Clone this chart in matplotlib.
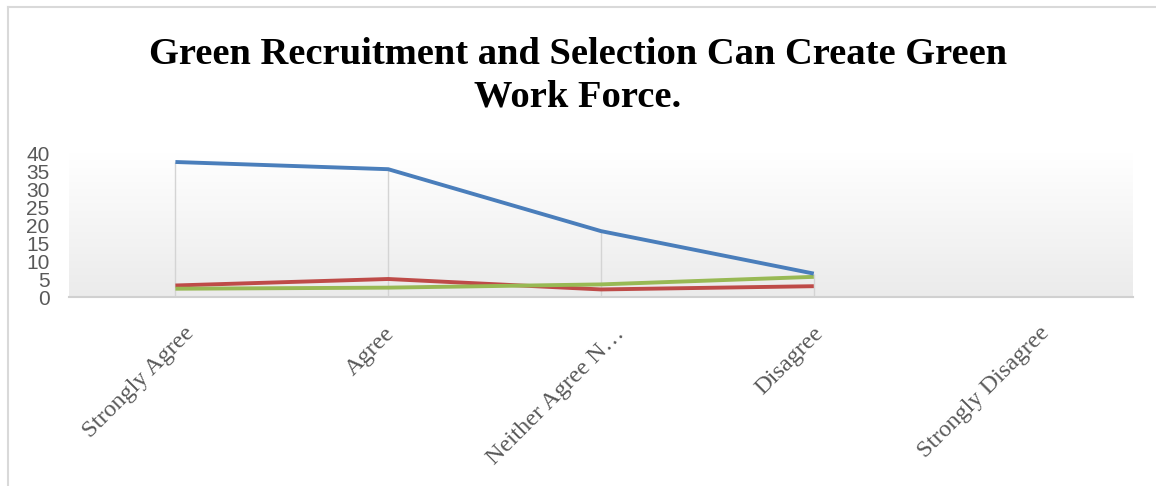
import numpy as np
import matplotlib
matplotlib.use("Agg")
import matplotlib.pyplot as plt
import matplotlib.transforms as mtrans
from matplotlib.lines import Line2D

categories = ["Strongly Agree", "Agree", "Neither Agree N…", "Disagree", "Strongly Disagree"]
series_blue = [37.5, 35.5, 18.3, 6.5, np.nan]
series_red = [3.2, 5.0, 2.1, 3.0, np.nan]
series_green = [2.3, 2.6, 3.5, 5.6, np.nan]
yticks = [0, 5, 10, 15, 20, 25, 30, 35, 40]
title = "Green Recruitment and Selection Can Create Green\nWork Force."

fig = plt.figure(figsize=(11.56, 4.86), dpi=100)
ax = fig.add_axes([69/1156, 1-297/486, (1133-69)/1156, (297-153)/486])

x = np.arange(len(categories))
grad = np.linspace(0, 1, 256).reshape(-1, 1)
ax.imshow(grad, extent=[0, 1, 0, 1], transform=ax.transAxes, aspect='auto',
          cmap=matplotlib.colors.LinearSegmentedColormap.from_list('g', ['#ffffff', '#ebebeb']),
          origin='upper', zorder=0)

allv = np.vstack([series_blue, series_red, series_green])
for i in range(len(categories)):
    col = allv[:, i]
    if np.all(np.isnan(col)):
        continue
    ax.vlines(x[i], 0, np.nanmax(col), color='#d4d4d4', lw=1.0, zorder=1)

ax.plot(x, series_red, color='#be4b48', lw=2.8, zorder=3, solid_capstyle='butt')
ax.plot(x, series_green, color='#98b954', lw=2.8, zorder=3, solid_capstyle='butt')
ax.plot(x, series_blue, color='#4a7ebb', lw=2.8, zorder=4, solid_capstyle='butt')

ax.set_xlim(-0.5, 4.5)
ax.set_ylim(0, 40)
ax.set_yticks(yticks)
ax.set_yticklabels([str(v) for v in yticks], fontfamily='Liberation Sans', fontsize=15, color='#595959')
ax.set_xticks(x)
ax.set_xticklabels([])
ax.tick_params(axis='both', length=0)
ax.tick_params(axis='y', pad=14)
for s in ['top', 'right', 'left']:
    ax.spines[s].set_visible(False)
ax.spines['bottom'].set_color('#d0d0d0')
ax.spines['bottom'].set_linewidth(1.5)

blend = mtrans.blended_transform_factory(ax.transData, ax.transAxes)
labels = []
for xi, lab in zip(x, categories):
    t = ax.text(xi, 0, lab, rotation=45, ha='right', va='top', rotation_mode='anchor',
                fontfamily='Liberation Serif', fontsize=17.5, color='#595959',
                transform=blend + mtrans.ScaledTranslation(0, -26/100, fig.dpi_scale_trans),
                clip_on=False)
    labels.append((xi, t))

fig.text(0.5, 1-76/486, title, ha='center', va='center', fontfamily='Liberation Serif',
         fontweight='bold', fontsize=27.7, linespacing=1.29)

fig.add_artist(Line2D([8/1156, 8/1156], [0, 1-7/486], color='#d9d9d9', lw=1.5, transform=fig.transFigure))
fig.add_artist(Line2D([8/1156, 1], [1-7/486, 1-7/486], color='#d9d9d9', lw=1.5, transform=fig.transFigure))

fig.canvas.draw()
r = fig.canvas.get_renderer()
for xi, t in labels:
    bb = t.get_window_extent(r)
    tick_px = ax.transData.transform((xi, 0))[0]
    desired_right = tick_px + 0.2 * bb.width - 1
    dx = desired_right - bb.x1
    t.set_transform(t.get_transform() + mtrans.ScaledTranslation(dx/100, 0, fig.dpi_scale_trans))

fig.savefig('out.png', dpi=100)
